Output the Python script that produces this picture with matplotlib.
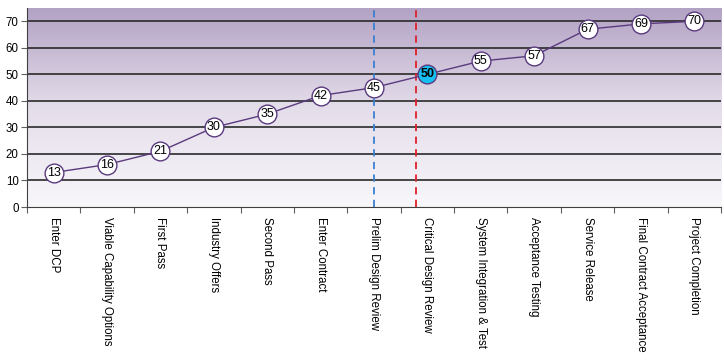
import numpy as np
import matplotlib
matplotlib.use('Agg')
import matplotlib.pyplot as plt
from matplotlib.colors import LinearSegmentedColormap

plt.rcParams['font.family'] = ['Liberation Sans', 'DejaVu Sans']

milestones = ['Enter DCP', 'Viable Capability Options', 'First Pass', 'Industry Offers',
              'Second Pass', 'Enter Contract', 'Prelim Design Review', 'Critical Design Review',
              'System Integration & Test', 'Acceptance Testing', 'Service Release',
              'Final Contract Acceptance', 'Project Completion']
values = [13, 16, 21, 30, 35, 42, 45, 50, 55, 57, 67, 69, 70]
current = 7          # highlighted milestone
blue_line = 6        # category position of the blue marker line
red_line = 6.78      # red marker line sits between categories

fig = plt.figure(figsize=(7.24, 3.61), dpi=100)
ax = fig.add_axes([27/724, (361-207)/361, 694/724, (207-8)/361])

n = len(values)
x = np.arange(n)

# gradient background
cmap = LinearSegmentedColormap.from_list('bg', ['#f8f7fa', '#e4ddea', '#b2a2c4'])
grad = np.linspace(0, 1, 256).reshape(-1, 1)
ax.imshow(grad, aspect='auto', cmap=cmap, origin='lower',
          extent=[-0.5, n-0.5, 0, 75], zorder=0)

ax.set_xlim(-0.5, n-0.5)
ax.set_ylim(0, 75)

for yv in range(10, 80, 10):
    ax.axhline(yv, color='#2a2a2a', lw=1.2, zorder=1)

ax.axvline(blue_line, color='#3a7fd0', lw=1.3, ls=(0, (4, 3)), zorder=2)
ax.axvline(red_line, color='#e0202a', lw=1.3, ls=(0, (4, 3)), zorder=2)

ax.plot(x, values, color='#5a3a7e', lw=1.0, zorder=3)
for i, v in enumerate(values):
    fc = '#16bff0' if i == current else 'white'
    ax.plot(i, v, 'o', ms=13.5, mfc=fc, mec='#5a3a7e', mew=1.0, zorder=4)
    ax.text(i, v, str(v), ha='center', va='center', fontsize=9, zorder=5,
            fontweight='bold' if i == current else 'normal')

ax.set_yticks(range(0, 80, 10))
ax.set_xticks(np.arange(n+1) - 0.5, minor=False)
ax.set_xticklabels([])
ax.set_xticks(x, minor=True)
ax.set_xticklabels(milestones, minor=True, rotation=270, fontsize=8.3,
                   va='top', ha='center')
ax.tick_params(axis='x', which='minor', length=0, pad=7)
ax.tick_params(axis='x', which='major', length=4, direction='out', color='#606060')
ax.tick_params(axis='y', length=4, labelsize=8.3, pad=2, color='#606060')

for s in ['top', 'right']:
    ax.spines[s].set_visible(False)
ax.spines['left'].set_color('#404040')
ax.spines['bottom'].set_color('#404040')

fig.savefig('out.png', dpi=100)
